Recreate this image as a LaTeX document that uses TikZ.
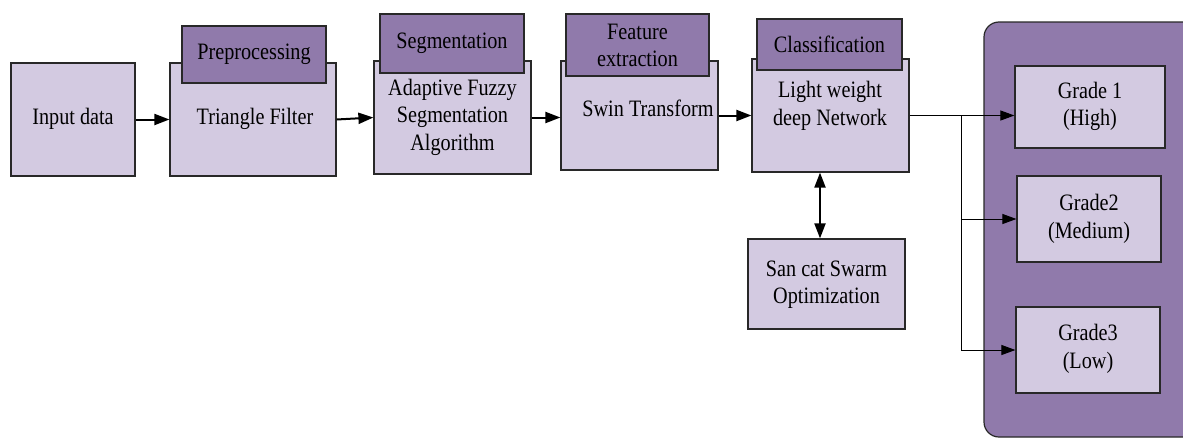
\documentclass[tikz,border=0pt]{standalone}
\usepackage{fontspec}
\setmainfont{Liberation Serif}[FakeStretch=0.86]
\usetikzlibrary{arrows.meta,calc}
\definecolor{boxlight}{RGB}{211,202,225}
\definecolor{boxdark}{RGB}{144,122,171}
\definecolor{edge}{RGB}{40,40,40}
\tikzset{
  box/.style={draw=edge, line width=1.2pt, fill=boxlight, minimum width=#1, inner sep=0pt},
  tab/.style={draw=edge, line width=1.2pt, fill=boxdark, inner sep=0pt},
  txt/.style={align=center, inner sep=0pt, font=\fontsize{23.5}{27.5}\selectfont},
  flow/.style={line width=2pt, -{Triangle[length=15pt,width=11pt]}},
  both/.style={line width=2pt, {Triangle[length=15pt,width=11pt]}-{Triangle[length=15pt,width=11pt]}},
  branch/.style={line width=1pt, -{Triangle[length=14pt,width=10pt]}},
}
\begin{document}
\begin{tikzpicture}[x=1pt,y=-1pt]
\useasboundingbox (0,0) rectangle (1183,439);

% grade panel on the right
\begin{scope}
  \clip (0,0) rectangle (1183,439);
  \draw[draw=edge, line width=1.2pt, fill=boxdark, rounded corners=15pt] (984,22) rectangle (1210,437);
\end{scope}

% pipeline boxes
\node[box=124pt, minimum height=113pt] (inp) at (73,119.5) {};
\node[box=166pt, minimum height=113pt] (tri) at (253,119.5) {};
\node[box=157pt, minimum height=113pt] (seg) at (452.5,117.5) {};
\node[box=157pt, minimum height=109pt] (fea) at (639.5,115.5) {};
\node[box=157pt, minimum height=113pt] (cls) at (830.5,115.5) {};
\node[box=157pt, minimum height=90pt] (san) at (826.5,284) {};

% stage tabs
\node[tab, minimum width=144pt, minimum height=57pt] (pretab) at (254,54.5) {};
\node[tab, minimum width=144pt, minimum height=59pt] (segtab) at (452,43.5) {};
\node[tab, minimum width=143pt, minimum height=62pt] (featab) at (637.5,45) {};
\node[tab, minimum width=145pt, minimum height=51pt] (clstab) at (829.5,44.5) {};

% grade boxes
\node[box=150pt, minimum height=82pt] (g1) at (1090,107) {};
\node[box=144pt, minimum height=86pt] (g2) at (1089,219) {};
\node[box=144pt, minimum height=86pt] (g3) at (1088,350) {};

% texts
\node[txt] (inpT) at (73,119) {Input data};
\node[txt] (triT) at (255,119) {Triangle Filter};
\node[txt] (segT) at (452.5,117) {Adaptive Fuzzy\\Segmentation\\Algorithm};
\node[txt] (feaT) at (648,108) {Swin Transform};
\node[txt] (clsT) at (830,106) {Light weight\\deep Network};
\node[txt] (sanT) at (826.5,284.5) {San cat Swarm\\Optimization};
\node[txt] (preL) at (254,54) {Preprocessing};
\node[txt] (segL) at (452,43.5) {Segmentation};
\node[txt] (feaL) at (637.5,45.5) {Feature\\extraction};
\node[txt] (clsL) at (829.5,44.5) {Classification};
\node[txt] (g1T) at (1090,106.5) {Grade 1\\(High)};
\node[txt] (g2T) at (1089,219) {Grade2\\(Medium)};
\node[txt] (g3T) at (1088,349) {Grade3\\(Low)};

% connectors
\draw[flow] (inp.east) -- (tri.west);
\draw[flow] (tri.east) -- (seg.west);
\draw[flow] (seg.east) -- (seg.east -| fea.west);
\draw[flow] (fea.east) -- (fea.east -| cls.west);
\draw[both] ([xshift=-10.5pt]cls.south) -- ([xshift=-10.5pt]cls.south |- san.north);

\coordinate (split) at ($(cls.east)+(52,0)$);
\draw[branch] (cls.east) -- (cls.east -| g1.west);
\draw[branch] (split) |- (g2.west);
\draw[branch] (split) |- (g3.west);
\end{tikzpicture}
\end{document}
